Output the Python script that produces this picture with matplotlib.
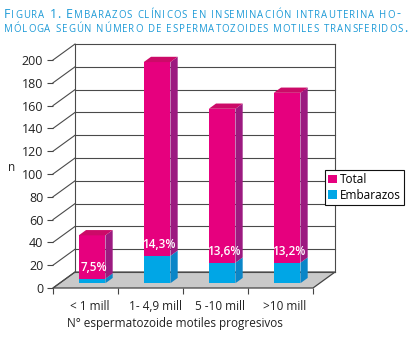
import matplotlib
matplotlib.use("Agg")
import matplotlib.pyplot as plt
from matplotlib.patches import Polygon, Patch
from matplotlib.font_manager import FontProperties, findfont
from matplotlib.ft2font import FT2Font

# ---- data ----
categories = ["< 1 mill", "1- 4,9 mill", "5 -10 mill", ">10 mill"]
total = [42, 194, 153, 167]
embarazos = [4, 24, 18, 18]
pct_labels = ["7,5%", "14,3%", "13,6%", "13,2%"]
yticks = list(range(0, 201, 20))

FONT = "Open Sans"
plt.rcParams["font.family"] = [FONT, "DejaVu Sans"]

W, H = 412, 337
DPI = 100
fig = plt.figure(figsize=(W / DPI, H / DPI), dpi=DPI)

ax = fig.add_axes([53 / W, (H - 288) / H, (313 - 53) / W, (288 - 60) / H])
ax.set_xlim(-0.5, 3.5)
ax.set_ylim(0, 200)
for s in ax.spines.values():
    s.set_visible(False)
ax.patch.set_visible(False)

DX = 22 / 65.0
DY = 14.0
x0, x1 = -0.5, len(categories) - 0.5
ymax = 200

edge = "#444444"
ax.add_patch(Polygon([(x0, 0), (x1, 0), (x1 + DX, DY), (x0 + DX, DY)],
                     closed=True, facecolor="#c9c9c9", edgecolor=edge, lw=0.9,
                     clip_on=False, zorder=1))
for g in yticks:
    ax.plot([x0 + DX, x1 + DX], [g + DY, g + DY], color="#4a4a4a", lw=0.8,
            clip_on=False, zorder=1.5)
    ax.plot([x0, x0 + DX], [g, g + DY], color="#4a4a4a", lw=0.8,
            clip_on=False, zorder=1.5)
for xv in (x0 + DX, x1 + DX):
    ax.plot([xv, xv], [DY, ymax + DY], color="#4a4a4a", lw=0.8,
            clip_on=False, zorder=1.5)

w = 0.41
d0 = 0.30
dd = 0.33
pink_front, pink_top, pink_side = "#E6007E", "#CC0A68", "#9C1A80"
blue_front, blue_side = "#00A6E6", "#0B86C8"

xs = list(range(len(categories)))
xf = [x + d0 * DX for x in xs]
yb = d0 * DY
ax.bar(xf, embarazos, width=w, bottom=yb, color=blue_front, lw=0,
       clip_on=False, zorder=3)
ax.bar(xf, [t - e for t, e in zip(total, embarazos)], width=w,
       bottom=[yb + e for e in embarazos], color=pink_front, lw=0,
       clip_on=False, zorder=3)
for i in xs:
    xl = xf[i] - w / 2
    xr = xf[i] + w / 2
    e = yb + embarazos[i]
    t = yb + total[i]
    ax.add_patch(Polygon([(xr, yb), (xr + dd * DX, yb + dd * DY),
                          (xr + dd * DX, e + dd * DY), (xr, e)],
                         closed=True, facecolor=blue_side, lw=0,
                         clip_on=False, zorder=3))
    ax.add_patch(Polygon([(xr, e), (xr + dd * DX, e + dd * DY),
                          (xr + dd * DX, t + dd * DY), (xr, t)],
                         closed=True, facecolor=pink_side, lw=0,
                         clip_on=False, zorder=3))
    ax.add_patch(Polygon([(xl, t), (xr, t), (xr + dd * DX, t + dd * DY),
                          (xl + dd * DX, t + dd * DY)],
                         closed=True, facecolor=pink_top, lw=0,
                         clip_on=False, zorder=3))
    ax.text(xf[i] + 0.03, e + 10, pct_labels[i], color="white", fontsize=8.5,
            fontweight="semibold", ha="center", va="center", zorder=4)

ax.set_yticks(yticks)
ax.set_yticklabels([str(v) for v in yticks])
ax.tick_params(axis="y", length=4, width=0.8, color=edge, pad=3,
               labelsize=9, labelcolor="#222222")
ax.set_xticks([x0 + k for k in range(len(categories) + 1)])
ax.set_xticklabels([])
ax.tick_params(axis="x", which="major", length=4, width=0.8, color=edge)
ax.set_xticks([x + 0.07 for x in xs], minor=True)
ax.set_xticklabels(categories, minor=True)
ax.tick_params(axis="x", which="minor", length=0, pad=9, labelsize=8.5,
               labelcolor="#222222")

ax.set_ylabel("n", rotation=0, fontsize=8.5, color="#222222", labelpad=6)
ax.yaxis.set_label_coords(-0.16, 0.5)
fig.text(175 / W, 1 - 323 / H, "N° espermatozoide motiles progresivos",
         ha="center", va="center", fontsize=8.5, color="#222222")

leg = fig.legend(handles=[Patch(facecolor=pink_front, label="Total"),
                          Patch(facecolor=blue_front, label="Embarazos")],
                 loc="upper left", bbox_to_anchor=(325 / W, 1 - 170 / H),
                 frameon=True, fancybox=False, edgecolor="#111111",
                 framealpha=1, fontsize=8.5, handlelength=0.75,
                 handleheight=0.75, handletextpad=0.25, borderpad=0.25,
                 labelspacing=0.25, borderaxespad=0)
leg.get_frame().set_linewidth(0.8)

# ---- title: emulated small caps, justified ----
title_color = "#1E9BD7"
lines = ["Figura 1. Embarazos clínicos en inseminación intrauterina ho-",
         "móloga según número de espermatozoides motiles transferidos."]
big, small = 8.9, 6.9
baselines_px = [17.5, 32.5]
x_start, x_ends = 4.0, [400.0, 407.0]
font_path = findfont(FontProperties(family=FONT))
ft = FT2Font(font_path)


def advance(ch, size):
    ft.set_size(size, DPI)
    g = ft.load_char(ord(ch))
    return g.linearHoriAdvance / 65536.0


for line, by, xe in zip(lines, baselines_px, x_ends):
    glyphs = []
    for ch in line:
        if ch.islower():
            glyphs.append((ch.upper(), small))
        else:
            glyphs.append((ch, big))
    advs = [advance(c, s) for c, s in glyphs]
    natural = sum(advs)
    gap = (xe - x_start - natural) / (len(glyphs) - 1)
    gap = max(min(gap, 1.5), 0)
    xpos = x_start
    for (c, s), a in zip(glyphs, advs):
        if c != " ":
            fig.text(xpos / W, 1 - by / H, c, fontsize=s, color=title_color,
                     ha="left", va="baseline")
        xpos += a + gap

fig.savefig("out.png", dpi=DPI)
